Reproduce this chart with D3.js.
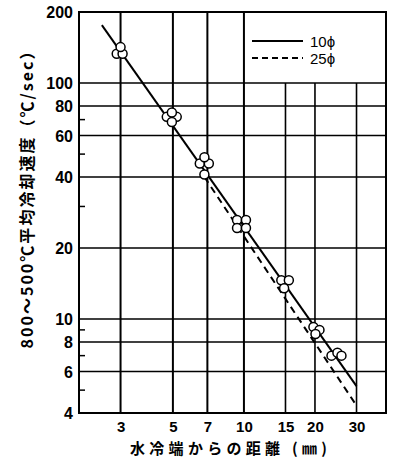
<!DOCTYPE html>
<html><head><meta charset="utf-8">
<script src="https://cdn.jsdelivr.net/npm/d3@7"></script>
<style>body{margin:0;background:#fff}</style>
</head><body>
<svg id="c" width="393" height="459"></svg>
<script>
const xTicks = [3,5,7,10,15,20,30];
const yTicks = [4,6,8,10,20,40,60,80,100,200];
const yGrid = [6,8,10,20,40,60,80,100];
const xGridFull = [3,5,7,10];
const xGridPartial = [15,20,30];
const yMinor = [5,7,9,30,50,70];
const points = [
  [2.89,133],[3.06,133],[3.0,142],
  [4.71,71.9],[5.19,71.9],[4.95,75],[4.95,68.4],
  [6.5,45.6],[7.1,45.6],[6.8,48.5],[6.8,41],
  [9.35,26.3],[10.2,26.3],[9.35,24.3],[10.2,24.3],
  [14.4,14.6],[15.5,14.6],[14.8,13.5],
  [19.7,9.25],[20.9,9.0],[20.1,8.64],
  [23.5,7.0],[24.9,7.2],[25.9,7.0]
];
const line10 = [[2.5,176],[30,5.2]];
const line25 = [[6.8,40],[30,4.3]];
const legendLabels = ["10ϕ","25ϕ"];
const xTitle = "水冷端からの距離 (㎜)";
const yTitle = "800～500℃平均冷却速度（℃/sec）";

const svg = d3.select("#c");
const L=79, R=386, T=12, B=413;
const x = d3.scaleLog().domain([2,40]).range([L,R]);
const y = d3.scaleLog().domain([4,200]).range([B,T]);
const font = "'Liberation Sans', Arial, 'DejaVu Sans', sans-serif";
const cjk = "'Noto Sans CJK JP', sans-serif";

// grid
svg.append("g").selectAll("line").data(yGrid).join("line")
  .attr("x1",L).attr("x2",R).attr("y1",d=>y(d)).attr("y2",d=>y(d))
  .attr("stroke","#000").attr("stroke-width",1.5);
svg.append("g").selectAll("line").data(xGridFull).join("line")
  .attr("x1",d=>x(d)).attr("x2",d=>x(d)).attr("y1",T).attr("y2",B)
  .attr("stroke","#000").attr("stroke-width",2);
svg.append("g").selectAll("line").data(xGridPartial).join("line")
  .attr("x1",d=>x(d)).attr("x2",d=>x(d)).attr("y1",y(100)).attr("y2",B)
  .attr("stroke","#000").attr("stroke-width",1.6);
// minor ticks
svg.append("g").selectAll("line").data(yMinor).join("line")
  .attr("x1",L).attr("x2",L+6).attr("y1",d=>y(d)).attr("y2",d=>y(d))
  .attr("stroke","#000").attr("stroke-width",1.5);
// border
svg.append("rect").attr("x",L).attr("y",T).attr("width",R-L).attr("height",B-T)
  .attr("fill","none").attr("stroke","#000").attr("stroke-width",2);

// axes
const ya = svg.append("g").attr("transform",`translate(${L},0)`)
  .call(d3.axisLeft(y).tickValues(yTicks).tickFormat(d3.format("d")).tickSize(0).tickPadding(6));
ya.select(".domain").remove();
ya.selectAll("text").attr("font-family",font).attr("font-size",16).attr("fill","#000").attr("font-weight","bold").attr("dy","0.36em");
const xa = svg.append("g").attr("transform",`translate(0,${B})`)
  .call(d3.axisBottom(x).tickValues(xTicks).tickFormat(d3.format("d")).tickSize(0).tickPadding(8));
xa.select(".domain").remove();
xa.selectAll("text").attr("font-family",font).attr("font-size",15).attr("fill","#000").attr("font-weight","bold");

// lines
const lg = d3.line().x(d=>x(d[0])).y(d=>y(d[1]));
svg.append("path").attr("d",lg(line10)).attr("fill","none").attr("stroke","#000").attr("stroke-width",2);
svg.append("path").attr("d",lg(line25)).attr("fill","none").attr("stroke","#000").attr("stroke-width",2).attr("stroke-dasharray","7,5");

// points
svg.append("g").selectAll("circle").data(points).join("circle")
  .attr("cx",d=>x(d[0])).attr("cy",d=>y(d[1])).attr("r",4.5)
  .attr("fill","#fff").attr("stroke","#000").attr("stroke-width",1.5);

// legend
const leg = svg.append("g");
leg.append("line").attr("x1",252).attr("x2",303).attr("y1",41).attr("y2",41).attr("stroke","#000").attr("stroke-width",2);
leg.append("line").attr("x1",252).attr("x2",303).attr("y1",58).attr("y2",58).attr("stroke","#000").attr("stroke-width",2).attr("stroke-dasharray","6,4");
leg.selectAll("text").data(legendLabels).join("text")
  .attr("x",310).attr("y",(d,i)=>47+i*17).text(d=>d)
  .attr("font-family",font).attr("font-size",15).attr("fill","#000");

// titles
svg.append("text").attr("x",130).attr("y",454).text(xTitle)
  .attr("font-family",cjk).attr("font-size",15).attr("font-weight","bold")
  .attr("textLength",197).attr("lengthAdjust","spacing").attr("fill","#000");
svg.append("text").attr("transform","translate(33,196) rotate(-90)")
  .attr("text-anchor","middle").text(yTitle)
  .attr("font-family",cjk).attr("font-size",16).attr("font-weight","bold")
  .attr("textLength",305).attr("lengthAdjust","spacing").attr("fill","#000");
</script>
</body></html>
